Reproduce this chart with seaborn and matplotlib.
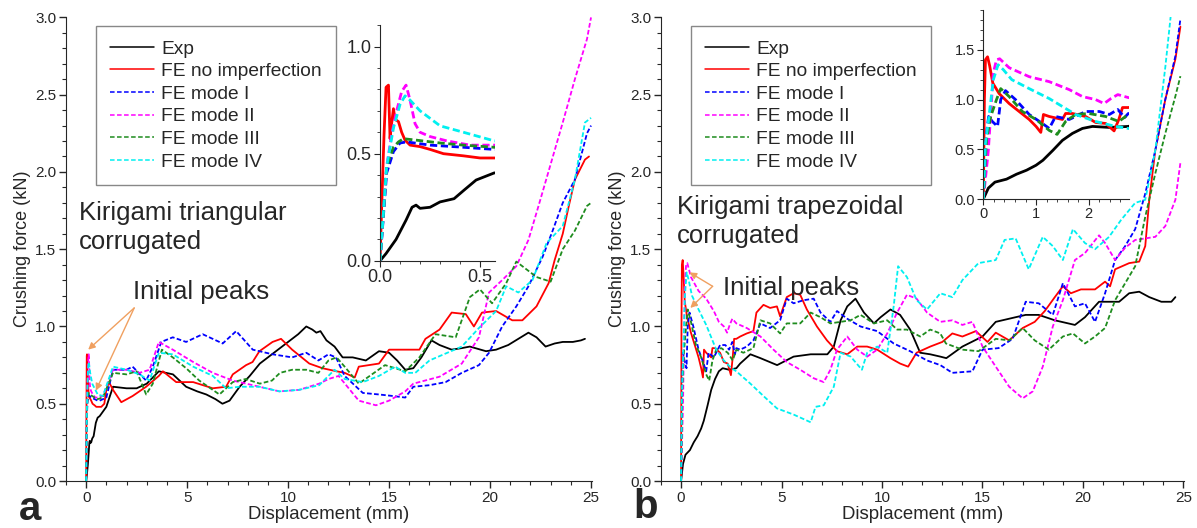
import numpy as np
import pandas as pd
import matplotlib
matplotlib.use("Agg")
import matplotlib.pyplot as plt
from matplotlib.lines import Line2D
from matplotlib.ticker import MultipleLocator, FormatStrFormatter
import seaborn as sns

labels = ["Exp", "FE no imperfection", "FE mode I", "FE mode II", "FE mode III", "FE mode IV"]
colors = ["#000000", "#FF0000", "#0000FF", "#FF00FF", "#1E8C1E", "#00F0F0"]

# ---- panel a : kirigami triangular ----
a_exp_x = [0, 0.03, 0.08, 0.13, 0.16, 0.18, 0.2, 0.25, 0.3, 0.37, 0.42, 0.48, 0.57, 0.67, 1.0, 1.33, 2.0, 2.5, 3.0, 3.6,
           4.3, 4.95, 5.5, 5.95, 6.4, 6.75, 7.1, 7.6, 8.1, 8.6, 9.2, 9.9, 10.5, 10.9, 11.2, 11.4, 11.6, 11.9, 12.3, 12.7,
           13.2, 13.85, 14.5, 15.0, 15.4, 15.8, 16.2, 16.6, 17.1, 17.5, 18.1, 18.6, 19.0, 19.8, 20.3, 20.9, 21.4, 21.9,
           22.3, 22.75, 23.2, 23.6, 24.1, 24.5, 24.7]
a_exp_y = [0, 0.034, 0.1, 0.19, 0.25, 0.26, 0.245, 0.25, 0.275, 0.29, 0.33, 0.377, 0.41, 0.42, 0.48, 0.61, 0.60, 0.60, 0.63,
           0.71, 0.69, 0.61, 0.58, 0.56, 0.53, 0.50, 0.52, 0.61, 0.68, 0.76, 0.82, 0.89, 0.95, 1.0, 0.98, 0.96, 0.97, 0.91,
           0.87, 0.80, 0.80, 0.78, 0.84, 0.83, 0.78, 0.72, 0.73, 0.80, 0.91, 0.88, 0.85, 0.86, 0.87, 0.84, 0.85, 0.88, 0.92,
           0.96, 0.93, 0.87, 0.89, 0.90, 0.90, 0.91, 0.92]
a_red_x = [0, 0.008, 0.02, 0.03, 0.042, 0.05, 0.055, 0.067, 0.075, 0.092, 0.108, 0.125, 0.15, 0.2, 0.25, 0.317, 0.417, 0.5,
           0.57, 0.75, 0.9, 1.0, 1.13, 1.33, 1.74, 2.3, 2.97, 3.6, 3.8, 4.46, 5.3, 6.27, 6.93, 7.26, 7.92, 8.24, 8.58, 9.23,
           9.65, 10.2, 11.05, 11.7, 12.4, 12.8, 13.3, 13.5, 14.5, 15.0, 16.5, 16.8, 17.5, 18.1, 18.8, 19.2, 19.6, 20.3,
           21.1, 21.6, 22.3, 22.9, 23.2, 23.6, 23.9, 24.2, 24.7, 24.9]
a_red_y = [0, 0.25, 0.59, 0.81, 0.82, 0.57, 0.62, 0.71, 0.66, 0.65, 0.6, 0.563, 0.54, 0.533, 0.52, 0.5, 0.49, 0.48, 0.48,
           0.48, 0.5, 0.59, 0.64, 0.59, 0.51, 0.55, 0.61, 0.68, 0.71, 0.64, 0.64, 0.6, 0.61, 0.69, 0.75, 0.77, 0.84, 0.9,
           0.92, 0.85, 0.76, 0.73, 0.71, 0.70, 0.67, 0.74, 0.76, 0.85, 0.85, 0.92, 0.98, 1.09, 1.08, 1.0, 1.09, 1.1, 1.04,
           1.04, 1.13, 1.28, 1.43, 1.6, 1.78, 1.95, 2.08, 2.1]
a_m1_x = [0, 0.033, 0.067, 0.1, 0.133, 0.25, 0.417, 0.57, 0.67, 1.0, 1.33, 2.0, 2.3, 2.97, 3.3, 3.72, 4.29, 4.95, 5.77,
          6.76, 7.43, 8.25, 9.23, 10.2, 10.9, 11.5, 12.0, 12.37, 12.8, 13.7, 14.5, 15.2, 15.8, 16.2, 17.0, 17.8, 18.6,
          19.45, 19.95, 20.6, 21.3, 21.9, 22.6, 23.1, 23.6, 24.2, 24.8, 25.0]
a_m1_y = [0, 0.41, 0.51, 0.55, 0.555, 0.54, 0.53, 0.52, 0.52, 0.54, 0.72, 0.72, 0.74, 0.65, 0.74, 0.9, 0.93, 0.9, 0.95,
          0.89, 0.97, 0.85, 0.82, 0.8, 0.83, 0.78, 0.82, 0.8, 0.68, 0.57, 0.56, 0.55, 0.54, 0.61, 0.62, 0.64, 0.70, 0.75,
          0.83, 1.0, 1.13, 1.26, 1.45, 1.62, 1.8, 1.95, 2.25, 2.3]
a_m2_x = [0, 0.033, 0.058, 0.083, 0.108, 0.13, 0.15, 0.175, 0.2, 0.25, 0.333, 0.45, 0.57, 0.83, 1.33, 2.0, 2.64, 3.14, 3.6,
          4.29, 5.3, 6.27, 7.26, 8.58, 9.57, 10.55, 11.54, 12.0, 12.5, 13.0, 13.5, 14.35, 15.0, 15.8, 16.2, 17.5, 18.6,
          19.45, 19.95, 20.6, 21.3, 21.9, 22.4, 23.0, 23.6, 24.2, 24.8, 25.0]
a_m2_y = [0, 0.44, 0.59, 0.7, 0.79, 0.82, 0.75, 0.64, 0.6, 0.58, 0.56, 0.54, 0.54, 0.55, 0.72, 0.72, 0.7, 0.72, 0.9, 0.85,
          0.77, 0.7, 0.65, 0.61, 0.58, 0.59, 0.63, 0.66, 0.68, 0.6, 0.52, 0.49, 0.52, 0.58, 0.63, 0.675, 0.76, 0.93, 1.22,
          1.3, 1.39, 1.56, 1.78, 2.05, 2.32, 2.6, 2.86, 3.0]
a_m3_x = [0, 0.033, 0.067, 0.092, 0.117, 0.183, 0.3, 0.417, 0.57, 0.83, 1.33, 2.0, 2.5, 2.97, 3.3, 3.75, 4.29, 4.95, 5.6,
          6.6, 7.26, 7.9, 8.6, 9.2, 9.6, 10.2, 10.9, 11.5, 12.0, 12.4, 12.8, 13.5, 14.8, 15.8, 16.5, 17.3, 18.3, 19.0,
          19.5, 20.1, 20.8, 21.3, 22.3, 23.0, 23.6, 24.2, 24.8, 25.0]
a_m3_y = [0, 0.44, 0.53, 0.555, 0.57, 0.563, 0.55, 0.54, 0.53, 0.54, 0.7, 0.69, 0.71, 0.56, 0.63, 0.85, 0.8, 0.73, 0.65,
          0.56, 0.64, 0.66, 0.63, 0.65, 0.7, 0.72, 0.72, 0.7, 0.78, 0.8, 0.74, 0.63, 0.75, 0.71, 0.8, 0.95, 0.93, 1.19,
          1.24, 1.15, 1.28, 1.42, 1.32, 1.29, 1.5, 1.62, 1.78, 1.8]
a_m4_x = [0, 0.033, 0.067, 0.1, 0.125, 0.15, 0.2, 0.3, 0.417, 0.57, 0.83, 1.33, 2.0, 2.64, 3.14, 3.6, 4.29, 5.3, 6.27,
          6.93, 7.6, 8.58, 9.57, 10.55, 11.54, 12.3, 12.8, 13.7, 14.5, 15.3, 15.8, 16.3, 17.0, 18.6, 19.45, 20.3, 20.8,
          21.4, 22.1, 22.8, 23.6, 24.2, 24.7, 25.0]
a_m4_y = [0, 0.44, 0.62, 0.73, 0.77, 0.75, 0.7, 0.63, 0.6, 0.56, 0.55, 0.74, 0.72, 0.69, 0.65, 0.83, 0.82, 0.74, 0.68,
          0.6, 0.61, 0.61, 0.58, 0.59, 0.62, 0.72, 0.66, 0.64, 0.68, 0.74, 0.70, 0.70, 0.78, 0.87, 0.99, 1.1, 1.26, 1.22,
          1.3, 1.54, 1.65, 1.95, 2.32, 2.35]

# ---- panel b : kirigami trapezoidal ----
b_exp_x = [0, 0.095, 0.22, 0.44, 0.63, 0.82, 1.0, 1.13, 1.32, 1.5, 1.69, 1.88, 2.07, 2.39, 2.75, 2.94, 3.45, 3.95, 4.78,
           5.6, 6.45, 7.28, 7.6, 7.94, 8.27, 8.68, 9.1, 9.6, 9.93, 10.42, 10.9, 11.4, 11.9, 12.4, 12.9, 13.2, 14.0, 15.0,
           15.66, 16.65, 17.15, 17.8, 18.6, 19.6, 20.1, 20.8, 21.8, 22.3, 22.8, 23.3, 23.9, 24.4, 24.6]
b_exp_y = [0, 0.11, 0.17, 0.2, 0.25, 0.29, 0.34, 0.39, 0.49, 0.59, 0.66, 0.71, 0.73, 0.72, 0.73, 0.76, 0.82, 0.795, 0.75,
           0.805, 0.82, 0.82, 0.87, 1.04, 1.13, 1.18, 1.09, 1.02, 1.06, 1.11, 1.075, 0.98, 0.83, 0.82, 0.805, 0.795, 0.87,
           0.935, 1.03, 1.06, 1.075, 1.075, 1.04, 1.01, 1.06, 1.16, 1.16, 1.215, 1.225, 1.19, 1.16, 1.16, 1.19]
b_red_x = [0, 0.02, 0.04, 0.08, 0.12, 0.18, 0.3, 0.49, 0.68, 0.87, 1.0, 1.09, 1.14, 1.25, 1.5, 1.56, 1.69, 1.94, 2.13,
           2.32, 2.48, 2.57, 2.64, 2.75, 2.94, 3.27, 3.6, 3.75, 4.1, 4.43, 4.77, 4.93, 5.26, 5.6, 5.93, 6.26, 6.76, 7.26,
           7.76, 8.27, 8.77, 9.26, 9.76, 10.42, 10.9, 11.3, 11.72, 12.4, 13.0, 13.5, 14.0, 14.67, 15.25, 15.66, 16.33,
           17.0, 17.6, 18.1, 18.6, 19.0, 19.4, 19.9, 20.6, 21.1, 21.35, 21.6, 22.3, 22.8, 23.1, 23.3, 23.6, 24.1, 24.6,
           24.85]
b_red_y = [0, 1.0, 1.4, 1.43, 1.34, 1.165, 1.06, 0.96, 0.88, 0.8, 0.73, 0.67, 0.85, 0.83, 0.8, 0.86, 0.86, 0.83, 0.77,
           0.76, 0.685, 0.8, 0.92, 0.92, 0.935, 0.955, 0.97, 1.09, 1.14, 1.12, 1.13, 1.065, 1.19, 1.215, 1.205, 1.11, 1.0,
           0.91, 0.84, 0.82, 0.87, 0.87, 0.85, 0.795, 0.76, 0.74, 0.83, 0.87, 0.9, 0.955, 0.935, 0.97, 0.9, 0.96, 0.91,
           0.99, 1.03, 1.1, 1.19, 1.26, 1.215, 1.24, 1.24, 1.29, 1.26, 1.37, 1.41, 1.42, 1.52, 1.82, 2.14, 2.47, 2.73,
           2.94]
b_m1_x = [0, 0.06, 0.1, 0.17, 0.27, 0.33, 0.42, 0.61, 0.87, 1.12, 1.25, 1.37, 1.63, 1.94, 2.2, 2.39, 2.55, 2.68, 2.75,
          2.94, 3.27, 3.6, 3.95, 4.43, 4.93, 5.26, 5.6, 6.1, 6.6, 6.94, 7.43, 7.76, 8.27, 8.93, 9.76, 10.58, 11.4, 12.24,
          12.9, 13.5, 14.5, 15.0, 15.8, 16.5, 17.15, 17.8, 18.5, 19.0, 19.6, 20.1, 20.6, 21.1, 21.6, 22.1, 22.6, 23.1,
          23.6, 24.1, 24.6, 24.85]
b_m1_y = [0, 0.66, 0.83, 0.78, 0.73, 1.0, 1.09, 1.0, 0.85, 0.76, 0.71, 0.83, 0.8, 0.88, 0.88, 0.85, 0.9, 0.82, 0.86,
          0.85, 0.87, 0.91, 1.02, 0.99, 1.04, 1.18, 1.15, 1.17, 1.18, 1.09, 1.03, 1.1, 1.05, 1.0, 0.97, 0.89, 0.84, 0.78,
          0.75, 0.7, 0.71, 0.85, 0.86, 0.92, 1.16, 1.15, 1.075, 1.28, 1.13, 1.15, 1.03, 1.215, 1.43, 1.52, 1.63, 1.86,
          2.14, 2.47, 2.75, 2.99]
b_m2_x = [0, 0.095, 0.19, 0.25, 0.31, 0.49, 0.87, 1.25, 1.63, 1.88, 2.13, 2.29, 2.42, 2.55, 2.75, 3.27, 3.95, 4.6, 5.26,
          5.93, 6.6, 7.1, 7.43, 7.76, 8.27, 8.77, 9.26, 9.76, 10.26, 10.75, 11.24, 11.72, 12.24, 12.9, 13.5, 14.0, 14.5,
          15.0, 15.66, 16.33, 17.0, 17.5, 18.0, 18.5, 19.0, 19.6, 20.1, 20.8, 21.1, 21.6, 22.1, 22.6, 23.1, 23.6, 24.1,
          24.6, 24.85]
b_m2_y = [0, 0.49, 1.27, 1.4, 1.41, 1.32, 1.23, 1.18, 1.1, 1.03, 1.0, 0.96, 1.01, 1.05, 1.02, 0.99, 0.935, 0.85, 0.77,
          0.72, 0.665, 0.64, 0.72, 0.85, 0.935, 0.85, 0.805, 0.85, 0.955, 1.09, 1.205, 1.18, 1.09, 1.03, 1.04, 1.01, 1.03,
          0.87, 0.74, 0.61, 0.535, 0.58, 0.74, 1.0, 1.17, 1.43, 1.475, 1.59, 1.54, 1.43, 1.51, 1.56, 1.57, 1.58, 1.65,
          1.82, 2.06]
b_m3_x = [0, 0.06, 0.14, 0.25, 0.33, 0.49, 0.74, 1.0, 1.25, 1.4, 1.56, 1.75, 2.0, 2.32, 2.57, 2.75, 3.1, 3.6, 3.95, 4.43,
          4.93, 5.26, 5.93, 6.45, 6.94, 7.43, 7.94, 8.44, 8.93, 9.6, 10.26, 10.75, 11.24, 11.9, 12.4, 12.9, 13.18, 14.0,
          14.8, 15.66, 16.33, 17.0, 17.6, 18.3, 19.0, 19.5, 20.1, 20.6, 21.1, 21.6, 22.1, 22.6, 23.1, 23.6, 24.1, 24.6,
          24.85]
b_m3_y = [0, 0.6, 0.83, 1.0, 1.11, 1.03, 0.88, 0.8, 0.69, 0.65, 0.78, 0.85, 0.86, 0.83, 0.78, 0.85, 0.83, 0.86, 1.04, 1.02,
          0.955, 1.02, 1.02, 1.09, 1.06, 1.02, 1.03, 1.04, 1.075, 1.02, 1.04, 0.98, 0.98, 0.935, 0.98, 0.955, 0.89, 0.85,
          0.84, 0.92, 0.91, 0.99, 0.91, 0.85, 0.935, 0.955, 0.89, 0.935, 0.99, 1.17, 1.28, 1.39, 1.71, 1.99, 2.25, 2.49,
          2.62]
b_m4_x = [0, 0.04, 0.1, 0.19, 0.28, 0.38, 0.54, 0.87, 1.25, 1.5, 1.75, 2.13, 2.51, 2.75, 3.45, 4.1, 4.77, 5.6, 6.45, 6.69,
          7.1, 7.6, 7.94, 8.44, 9.0, 9.26, 9.76, 10.26, 10.58, 10.8, 11.24, 11.72, 12.24, 12.9, 13.5, 14.0, 14.8, 15.66,
          16.1, 16.65, 17.3, 18.0, 18.5, 19.0, 19.5, 20.1, 20.6, 21.3, 21.9, 22.6, 23.1, 23.6, 24.1, 24.4]
b_m4_y = [0, 0.56, 0.8, 1.2, 1.35, 1.3, 1.2, 1.11, 1.01, 0.93, 0.85, 0.78, 0.73, 0.71, 0.63, 0.55, 0.47, 0.43, 0.38, 0.48,
          0.49, 0.61, 0.83, 0.805, 0.72, 0.83, 0.87, 0.83, 1.13, 1.39, 1.32, 1.17, 1.11, 1.215, 1.19, 1.3, 1.41, 1.43,
          1.56, 1.57, 1.37, 1.58, 1.52, 1.43, 1.63, 1.54, 1.5, 1.58, 1.69, 1.8, 1.82, 2.14, 2.68, 3.05]

a_curves = [(a_exp_x, a_exp_y), (a_red_x, a_red_y), (a_m1_x, a_m1_y), (a_m2_x, a_m2_y), (a_m3_x, a_m3_y), (a_m4_x, a_m4_y)]
b_curves = [(b_exp_x, b_exp_y), (b_red_x, b_red_y), (b_m1_x, b_m1_y), (b_m2_x, b_m2_y), (b_m3_x, b_m3_y), (b_m4_x, b_m4_y)]


def make_frame(curves):
    parts = []
    for lab, (xs, ys) in zip(labels, curves):
        parts.append(pd.DataFrame({"disp": xs, "force": ys, "series": lab}))
    return pd.concat(parts, ignore_index=True)


sns.set_style("ticks")
plt.rcParams["font.family"] = ["Liberation Sans", "DejaVu Sans"]

palette = dict(zip(labels, colors))
dash_map = {lab: ("" if i < 2 else (2.6, 1.3)) for i, lab in enumerate(labels)}


def draw(ax, df, lw):
    sns.lineplot(data=df, x="disp", y="force", hue="series", style="series",
                 hue_order=labels, style_order=labels, palette=palette, dashes=dash_map,
                 estimator=None, sort=False, lw=lw, legend=False, ax=ax)
    ax.set_xlabel("")
    ax.set_ylabel("")
    for s in ["top", "right"]:
        ax.spines[s].set_visible(False)


fig = plt.figure(figsize=(11.97, 5.28), dpi=100)
ax_a = fig.add_axes([0.0551, 0.089, 0.4395, 0.878])
ax_b = fig.add_axes([0.5522, 0.089, 0.4373, 0.878])
ins_a = fig.add_axes([0.3175, 0.506, 0.0961, 0.4464])
ins_b = fig.add_axes([0.8215, 0.623, 0.122, 0.358])

df_a = make_frame(a_curves)
df_b = make_frame(b_curves)

arrow_col = "#F0A060"
for ax, df, title, txt_xy, peak_xy, arr_from, arr_to in [
        (ax_a, df_a, "Kirigami triangular\ncorrugated", (-0.37, 1.81), (2.34, 1.22), (2.38, 1.12),
         [(0.1, 0.85), (0.48, 0.585)]),
        (ax_b, df_b, "Kirigami trapezoidal\ncorrugated", (-0.21, 1.85), (2.08, 1.25), (1.57, 1.26),
         [(0.42, 1.35), (0.46, 1.12)])]:
    draw(ax, df, 1.3)
    ax.set_xlim(-1, 25.05)
    ax.set_ylim(0, 3.0)
    ax.xaxis.set_major_locator(MultipleLocator(5))
    ax.xaxis.set_minor_locator(MultipleLocator(1))
    ax.yaxis.set_major_locator(MultipleLocator(0.5))
    ax.yaxis.set_minor_locator(MultipleLocator(0.1))
    ax.yaxis.set_major_formatter(FormatStrFormatter("%.1f"))
    ax.tick_params(which="major", direction="out", length=5, width=1, labelsize=11, pad=2)
    ax.tick_params(which="minor", direction="out", length=3, width=0.8)
    ax.set_xlabel("Displacement (mm)", fontsize=13.4, labelpad=1)
    ax.set_ylabel("Crushing force (kN)", fontsize=13, labelpad=3)
    ax.text(txt_xy[0], txt_xy[1], title, fontsize=18.5, va="top", ha="left", linespacing=1.25)
    ax.text(peak_xy[0], peak_xy[1], "Initial peaks", fontsize=18.5, va="center", ha="left")
    for end in arr_to:
        ax.annotate("", xy=end, xytext=arr_from,
                    arrowprops=dict(arrowstyle="-|>", color=arrow_col, lw=1.0,
                                    mutation_scale=10, shrinkA=0, shrinkB=0))
    handles = [Line2D([], [], color=c, lw=1.1, ls="-" if i < 2 else (0, (3, 1.6)))
               for i, c in enumerate(colors)]
    leg = ax.legend(handles, labels, loc="upper left", bbox_to_anchor=(0.057, 0.982),
                    frameon=True, fancybox=False, edgecolor="#888888", framealpha=1,
                    fontsize=13.8, handlelength=2.3, labelspacing=0.27, borderpad=0.75,
                    handletextpad=0.35, borderaxespad=0)
    leg.get_frame().set_linewidth(1.0)

# insets
draw(ins_a, df_a, 2.0)
ins_a.set_xlim(0, 0.575)
ins_a.set_ylim(0, 1.1)
ins_a.xaxis.set_major_locator(MultipleLocator(0.5))
ins_a.xaxis.set_minor_locator(MultipleLocator(0.1))
ins_a.yaxis.set_major_locator(MultipleLocator(0.5))
ins_a.yaxis.set_minor_locator(MultipleLocator(0.1))
ins_a.xaxis.set_major_formatter(FormatStrFormatter("%.1f"))
ins_a.yaxis.set_major_formatter(FormatStrFormatter("%.1f"))
ins_a.tick_params(which="major", direction="out", length=4, labelsize=13, pad=2)
ins_a.tick_params(which="minor", direction="out", length=2.5)

draw(ins_b, df_b, 2.0)
ins_b.set_xlim(0, 2.77)
ins_b.set_ylim(0, 1.9)
ins_b.xaxis.set_major_locator(MultipleLocator(1))
ins_b.xaxis.set_minor_locator(MultipleLocator(0.2))
ins_b.yaxis.set_major_locator(MultipleLocator(0.5))
ins_b.yaxis.set_minor_locator(MultipleLocator(0.1))
ins_b.yaxis.set_major_formatter(FormatStrFormatter("%.1f"))
ins_b.tick_params(which="major", direction="out", length=4, labelsize=10.5, pad=2)
ins_b.tick_params(which="minor", direction="out", length=2.5)

fig.text(0.016, 0.015, "a", fontsize=29, fontweight="bold", va="baseline")
fig.text(0.529, 0.018, "b", fontsize=29, fontweight="bold", va="baseline")

fig.savefig("out.png", dpi=100)
